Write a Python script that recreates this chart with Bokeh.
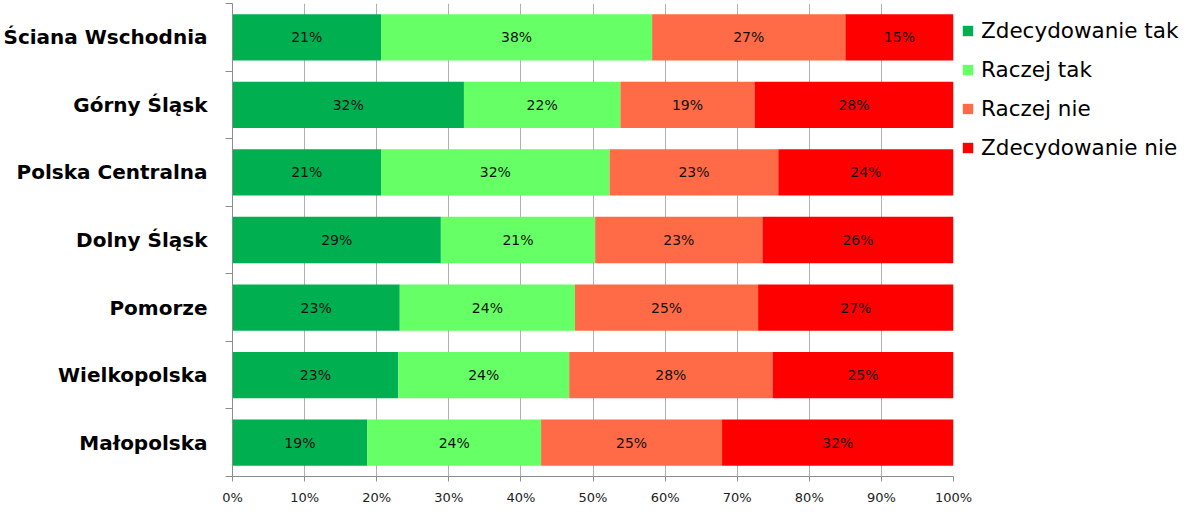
import numpy as np
from bokeh.plotting import figure
from bokeh.models import Range1d, FixedTicker, PrintfTickFormatter, Legend, LegendItem, ColumnDataSource
from bokeh.core.properties import value
from bokeh.embed import file_html
from bokeh.resources import INLINE

regions = ["Ściana Wschodnia", "Górny Śląsk", "Polska Centralna", "Dolny Śląsk",
           "Pomorze", "Wielkopolska", "Małopolska"]
series = ["Zdecydowanie tak", "Raczej tak", "Raczej nie", "Zdecydowanie nie"]
zdecydowanie_tak = [20.6, 32.1, 20.6, 28.9, 23.2, 23.0, 18.7]
raczej_tak = [37.6, 21.7, 31.7, 21.4, 24.3, 23.7, 24.1]
raczej_nie = [26.8, 18.6, 23.4, 23.2, 25.4, 28.2, 25.1]
zdecydowanie_nie = [15.0, 27.6, 24.3, 26.5, 27.1, 25.1, 32.1]
colors = ["#00B050", "#66FF66", "#FF6A47", "#FF0000"]
x_ticks = list(range(0, 101, 10))

FONT = "DejaVu Sans"
n = len(regions)
y = n - 0.5 - np.arange(n)
vals = [zdecydowanie_tak, raczej_tak, raczej_nie, zdecydowanie_nie]

FW, FH = 721, 473
p = figure(frame_width=FW, frame_height=FH, output_backend="svg", toolbar_location=None,
           x_range=Range1d(0, 100), y_range=Range1d(0, n),
           min_border_left=229, min_border_right=0, min_border_top=3, min_border_bottom=28)
p.outline_line_color = None

data = {"y": y}
for s, v in zip(series, vals):
    data[s] = v
src = ColumnDataSource(data)
renderers = p.hbar_stack(series, y="y", height=0.685, color=colors, source=src, line_width=0)

# value labels
left = np.zeros(n)
lx, ly, lt = [], [], []
for v in vals:
    arr = np.array(v)
    c = left + arr / 2
    for i in range(n):
        lx.append(c[i]); ly.append(y[i]); lt.append(f"{arr[i]:.0f}%")
    left = left + arr
p.text(x=lx, y=ly, text=lt, text_align="center", text_baseline="middle",
       text_font=value(FONT), text_font_size="14px", text_color="#111111")

# x axis
p.xaxis.ticker = FixedTicker(ticks=x_ticks)
p.xaxis.formatter = PrintfTickFormatter(format="%d%%")
p.xaxis.major_label_text_font = FONT
p.xaxis.major_label_text_font_size = "13px"
p.xaxis.major_label_text_color = "#222222"
p.xaxis.major_label_standoff = 8
p.xaxis.axis_line_color = "#8c8c8c"
p.xaxis.major_tick_line_color = "#8c8c8c"
p.xaxis.major_tick_out = 5
p.xaxis.major_tick_in = 0
p.xaxis.minor_tick_line_color = None
p.xgrid.ticker = FixedTicker(ticks=x_ticks)
p.xgrid.grid_line_color = "#b0b0b0"
p.ygrid.grid_line_color = None

# y axis
p.yaxis.ticker = FixedTicker(ticks=list(y), minor_ticks=list(range(0, n + 1)))
p.yaxis.major_label_overrides = {float(yy): r for yy, r in zip(y, regions)}
p.yaxis.major_label_text_font = FONT
p.yaxis.major_label_text_font_style = "bold"
p.yaxis.major_label_text_font_size = "20px"
p.yaxis.major_label_text_color = "#000000"
p.yaxis.major_tick_line_color = None
p.yaxis.major_tick_out = 0
p.yaxis.major_tick_in = 0
p.yaxis.minor_tick_line_color = "#8c8c8c"
p.yaxis.minor_tick_out = 7
p.yaxis.minor_tick_in = 0
p.yaxis.axis_line_color = "#8c8c8c"
p.yaxis.major_label_standoff = 18

item_h = 39
legend = Legend(items=[LegendItem(label=s, renderers=[r]) for s, r in zip(series, renderers)],
                location="top_left", orientation="vertical")
legend.label_text_font = FONT
legend.label_text_font_size = "21.5px"
legend.label_text_color = "#000000"
legend.glyph_width = 13
legend.glyph_height = 13
legend.label_height = item_h
legend.spacing = 0
legend.label_standoff = 7
legend.padding = 0
legend.margin = 8
legend.border_line_color = None
legend.background_fill_alpha = 0
p.add_layout(legend, "right")

open("out.html", "w").write(file_html(p, INLINE))
